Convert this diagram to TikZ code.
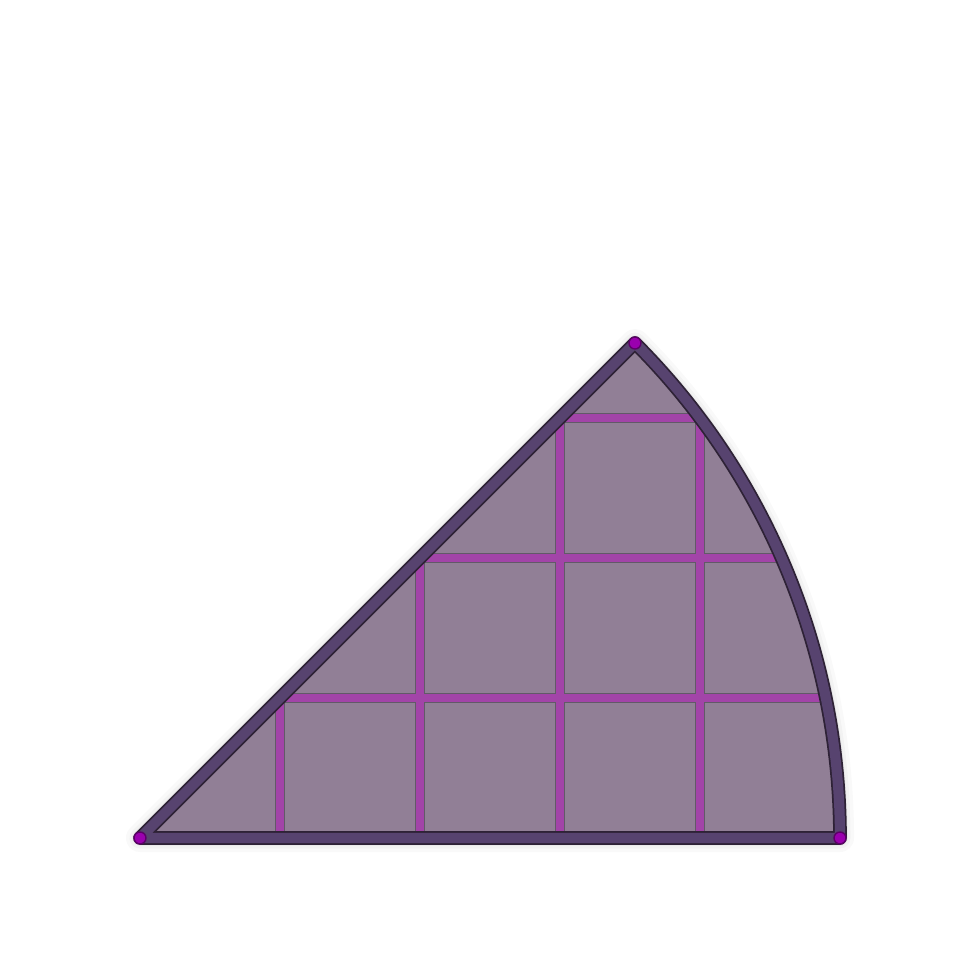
\documentclass[tikz,border=0pt]{standalone}
\usetikzlibrary{calc}
\begin{document}
\begin{tikzpicture}[x=1cm,y=1cm,
  fillc/.style={fill=sectfill},
  edgedark/.style={draw=edgeblack,line width=3.9pt,line join=round,line cap=round},
  edgemain/.style={draw=rimpurple,line width=2.9pt,line join=round,line cap=round},
  griddark/.style={draw=edgeblack!75,line width=2.9pt},
  gridmain/.style={draw=gridmag,line width=2.2pt},
  vdot/.style={fill=dotmag,draw=dotmag!60!black,line width=0.4pt}]
\definecolor{sectfill}{HTML}{917F96}
\definecolor{edgeblack}{HTML}{2E2236}
\definecolor{rimpurple}{HTML}{57436F}
\definecolor{gridmag}{HTML}{A244A8}
\definecolor{dotmag}{HTML}{9A00AE}
\definecolor{shadowc}{HTML}{C8C8C8}
\useasboundingbox (0,0) rectangle (9.8,9.8);
\coordinate (O) at (1.40,1.42);
\coordinate (R) at ($(O)+(7,0)$);
\coordinate (T) at ($(O)+(45:7)$);
% soft shadow
\foreach \w/\o in {8pt/0.10,6pt/0.15,4.5pt/0.2}{
  \draw[shadowc,line width=\w,opacity=\o,line join=round,shift={(0.03,-0.05)}]
    (O) -- ++(7,0) arc (0:45:7) -- cycle;
}
% sector fill
\path[fillc] (O) -- ++(7,0) arc (0:45:7) -- cycle;
% grid clipped to sector
\begin{scope}
  \clip (O) -- ++(7,0) arc (0:45:7) -- cycle;
  \foreach \i in {1,2,3,4}{
    \draw[griddark] ($(O)+(1.4*\i,0)$) -- ++(0,7);
  }
  \foreach \j in {1,2,3}{
    \draw[griddark] ($(O)+(0,1.4*\j)$) -- ++(7,0);
  }
  \foreach \i in {1,2,3,4}{
    \draw[gridmain] ($(O)+(1.4*\i,0)$) -- ++(0,7);
  }
  \foreach \j in {1,2,3}{
    \draw[gridmain] ($(O)+(0,1.4*\j)$) -- ++(7,0);
  }
\end{scope}
% rim
\draw[edgedark] (O) -- ++(7,0) arc (0:45:7) -- cycle;
\draw[edgemain] (O) -- ++(7,0) arc (0:45:7) -- cycle;
% vertices
\fill[vdot] (O) circle (0.06);
\fill[vdot] (R) circle (0.06);
\fill[vdot] (T) circle (0.06);
\end{tikzpicture}
\end{document}
